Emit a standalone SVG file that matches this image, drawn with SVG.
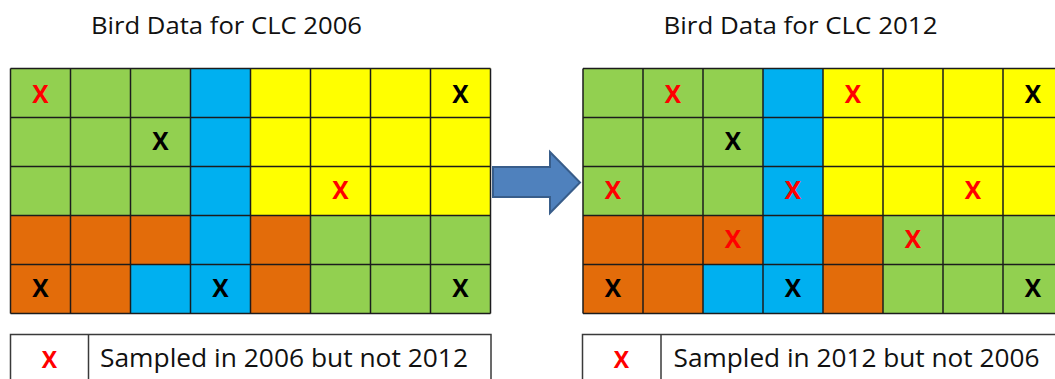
<svg xmlns="http://www.w3.org/2000/svg" width="1055" height="379" viewBox="0 0 1055 379">
<style>
.g{fill:#92D050}.b{fill:#00B0F0}.y{fill:#FFFF00}.o{fill:#E36C0A}
.ln{stroke:#1c1c1c;stroke-width:1.5;fill:none}
.x{font-family:"Open Sans","Liberation Sans",sans-serif;font-weight:bold;font-size:24.5px;text-anchor:middle}
.r{fill:#FF0000}.k{fill:#000000}
.t{font-family:"Open Sans","Liberation Sans",sans-serif;font-size:23.4px;fill:#111}
.lt{font-family:"Open Sans","Liberation Sans",sans-serif;font-size:25.5px;fill:#111}
.lx{font-family:"Open Sans","Liberation Sans",sans-serif;font-weight:bold;font-size:23px;fill:#FF0000;text-anchor:middle}
.box{fill:#fff;stroke:#3a3a3a;stroke-width:1.5}
</style>
<rect width="1055" height="379" fill="#fff"/>
<g id="title2006"><text class="t" x="91" y="34.3" textLength="271" lengthAdjust="spacingAndGlyphs">Bird Data for CLC 2006</text></g>
<g id="title2012"><text class="t" x="663.5" y="34.3" textLength="274" lengthAdjust="spacingAndGlyphs">Bird Data for CLC 2012</text></g>

<g id="grid2006">
<rect class="g" x="10.5" y="68.5" width="180" height="147"/>
<rect class="b" x="190.5" y="68.5" width="60" height="245"/>
<rect class="y" x="250.5" y="68.5" width="240" height="147"/>
<rect class="o" x="10.5" y="215.5" width="180" height="49"/>
<rect class="o" x="10.5" y="264.5" width="120" height="49"/>
<rect class="b" x="130.5" y="264.5" width="60" height="49"/>
<rect class="o" x="250.5" y="215.5" width="60" height="98"/>
<rect class="g" x="310.5" y="215.5" width="180" height="98"/>
<path class="ln" d="M10.5,68.5V313.5M70.5,68.5V313.5M130.5,68.5V313.5M190.5,68.5V313.5M250.5,68.5V313.5M310.5,68.5V313.5M370.5,68.5V313.5M430.5,68.5V313.5M490.5,68.5V313.5M10.5,68.5H490.5M10.5,117.5H490.5M10.5,166.5H490.5M10.5,215.5H490.5M10.5,264.5H490.5M10.5,313.5H490.5"/>
<text class="x r" x="40.5" y="103.3">X</text>
<text class="x k" x="460.5" y="103.3">X</text>
<text class="x k" x="160.5" y="150">X</text>
<text class="x r" x="340.5" y="199.3">X</text>
<text class="x k" x="40.5" y="297.3">X</text>
<text class="x k" x="220.5" y="297.3">X</text>
<text class="x k" x="460.5" y="297.3">X</text>
</g>

<g id="connectors">
<polygon points="493,167 550,167 550,152 580,182.5 550,213 550,197 493,197" fill="#4F81BD" stroke="#385D8A" stroke-width="2"/>
</g>

<g id="grid2012">
<rect class="g" x="583" y="68.5" width="180" height="147"/>
<rect class="b" x="763" y="68.5" width="60" height="245"/>
<rect class="y" x="823" y="68.5" width="240" height="147"/>
<rect class="o" x="583" y="215.5" width="180" height="49"/>
<rect class="o" x="583" y="264.5" width="120" height="49"/>
<rect class="b" x="703" y="264.5" width="60" height="49"/>
<rect class="o" x="823" y="215.5" width="60" height="98"/>
<rect class="g" x="883" y="215.5" width="180" height="98"/>
<path class="ln" d="M583,68.5V313.5M643,68.5V313.5M703,68.5V313.5M763,68.5V313.5M823,68.5V313.5M883,68.5V313.5M943,68.5V313.5M1003,68.5V313.5M583,68.5H1063M583,117.5H1063M583,166.5H1063M583,215.5H1063M583,264.5H1063M583,313.5H1063"/>
<text class="x r" x="673" y="103.3">X</text>
<text class="x r" x="853" y="103.3">X</text>
<text class="x k" x="1033" y="103.3">X</text>
<text class="x k" x="733" y="150">X</text>
<text class="x r" x="613" y="199.3">X</text>
<text class="x r" x="793" y="199.3">X</text>
<text class="x r" x="973" y="199.3">X</text>
<text class="x r" x="733" y="248.3">X</text>
<text class="x r" x="913" y="248.3">X</text>
<text class="x k" x="613" y="297.3">X</text>
<text class="x k" x="793" y="297.3">X</text>
<text class="x k" x="1033" y="297.3">X</text>
</g>

<g id="legend2006">
<rect class="box" x="10.5" y="334.5" width="480.5" height="60"/>
<path class="box" d="M88.5,334.5V394.5"/>
<text class="lx" x="49.3" y="368">X</text>
<text class="lt" x="100" y="366.7" textLength="368" lengthAdjust="spacingAndGlyphs">Sampled in 2006 but not 2012</text>
</g>

<g id="legend2012">
<rect class="box" x="582.5" y="334.5" width="490" height="60"/>
<path class="box" d="M661,334.5V394.5"/>
<text class="lx" x="621.5" y="368">X</text>
<text class="lt" x="673.5" y="366.7" textLength="366" lengthAdjust="spacingAndGlyphs">Sampled in 2012 but not 2006</text>
</g>
</svg>
